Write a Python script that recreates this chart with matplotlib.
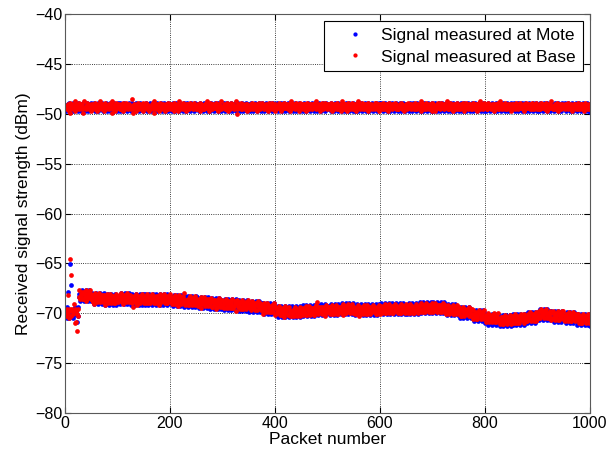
import numpy as np
import matplotlib.pyplot as plt

plt.rcParams['font.family'] = ['Liberation Sans', 'DejaVu Sans']

# RSSI readings, written as digit strings: each digit is one packet,
# offset from the band level in steps (digit - 4.5) * step
mote_high_digits = """
5263748352 6473825364 7352846375 2648357264 8352746385
4736582736 4825374638 5274635827 3645283746 5283746528
6352847362 5384736254 8637254836 4725836472 5384763524
3748526374 8526347852 6347825634 7852634782 5637482563
4625837462 5837462583 7462583746 2583746258 3746258374
5374628537 4628537462 8537462853 7462853746 2853746285
3846275384 6275384627 5384627538 4627538462 7538462753
6253847625 3847625384 7625384762 5384762538 4762538476
4738526473 8526473852 6473852647 3852647385 2647385264
5627384562 7384562738 4562738456 2738456273 8456273845
3465728346 5728346572 8346572834 6572834657 2834657283
7254638725 4638725463 8725463872 5463872546 3872546387
4583726458 3726458372 6458372645 8372645837 2645837264
6347258634 7258634725 8634725863 4725863472 5863472586
2536847253 6847253684 7253684725 3684725368 4725368472
5748362574 8362574836 2574836257 4836257483 6257483625
3625748362 5748362574 8362574836 2574836257 4836257483
6473582647 3582647358 2647358264 7358264735 8264735826
4352867435 2867435286 7435286743 5286743528 6743528674
5864273586 4273586427 3586427358 6427358642 7358642731
"""
base_high_digits = """
4553462371 5446354826 3554473645 5634184453 4765354426
3546457352 6445385463 4655247354 4536654718 3454627365
5463354647 2554376453 4645539451 6354426574 3565443275
4456736452 5344657381 5463455624 7345546352 4564337546
6345542765 3455628443 5647354456 2546653474 5435674453
3564457246 5435366548 4456237565 3645547436 5246558344
4655343672 5464357445 6344580356 4565373446 5354626453
5436475354 4653246657 3545764435 5463352746 4657345532
6344557463 5236447546 4564355728 3456546437 5645234756
4535664352 7454356645 3465547834 5546324657 4356745436
5644357245 4365546373 5455628454 3646435275 6453547346
3456264857 5435473645 6354542736 4565354457 3745463526
5463745354 3654267445 4536456573 6453344657 5364525446
4357546643 5465337455 3645564827 5443657345 4536456372
6435253647 4556374546 5344658453 3657443562 4565347354
5346456472 3564745346 4653357564 5346426758 3455643745
4563374655 5346546234 6455373846 4535645374 5346554632
3654465357 4563547645 5346234756 4655436573 6453457453
5435637446 4653357524 3564648453 5436453762 4556345645
4365546735 5453642456 4635557346 3546465327 5463455364
"""
mote_low_digits = """
3728465273 8465237846 5273846527 3846527384 6527384652
5846273584 6273585462 7358462735 8462735846 2735846273
4637258463 7254863725 8463725846 3725846372 5846372584
6285473628 5473628547 3628547362 8547362854 7362854736
3574628357 4628357462 8357462835 7462835746 2835746283
4863725486 3725486372 5486372548 6372548637 2548637254
5728364572 8364572836 4572836457 2836457283 6457283645
2647583264 7583264758 3264758326 4758326475 8326475832
6354827635 4827635482 7635482763 5482763548 2763548276
3482657348 2657348265 7348265734 8265734826 5734826573
5736248573 6248573624 8573624857 3624857362 4857362485
4625738462 5738462573 8462573846 2573846257 3846257384
6384527638 4527638452 7638452763 8452763845 2763845276
2573846257 3846257384 6257384625 7384625738 4625738462
4857362485 7362485736 2485736248 5736248573 6248573624
5263847526 3847526384 7526384752 6384752638 4752638475
3746582374 6582374658 2374658237 4658237465 8237465823
6528374652 8374652837 4652837465 2837465283 7465283746
4372865437 2865437286 5437286543 7286543728 6543728654
5647283564 7283564728 3564728356 4728356472 8356472831
"""
base_low_digits = """
5364472556 4356548362 5453647345 4653356472 5344567453
4563246755 3465753446 5536442675 4354675364 6453347556
3546657342 5465436574 4356564351 5645372546 4536457463
5453647345 6344576453 4563554627 3654465743 5463346557
4635543675 5346257446 3564658435 4455363746 5346547354
6453346572 4564735456 5436445673 3546654235 4657354463
4356567345 5643456374 3465525746 5634467353 4563546745
5546374456 4365537564 6453442657 4536765344 5346453675
3654467543 5346356247 4563647534 5435463756 6344557364
4536546473 3654753446 5463365748 4356445635 5645327456
5463654374 4536457635 3645546372 5463354657 4536674534
6345453762 5436546347 4563735456 3546457654 5436345763
4653546437 5364657345 4536346756 6453546437 3564653475
5436457364 4653345765 5346564374 4635437556 5463654347
3546745356 5463456437 4653635574 5346456437 6453547346
4563365754 3654546473 5436657345 4563345765 5346546374
5364457365 4536546753 6345754436 5463346574 4356645735
4653557346 5346436574 4563754435 3654567346 5436457354
5463346756 4365657435 5346543674 4653456537 3546645773
4536564357 5463345674 3654657436 5463345756 4536657345
"""

# band levels (dBm)
mote_high_level = -49.35
base_high_level = -49.3
# lower band, one level per 25 packets
base_low_levels = [-69.9, -68.2, -68.5, -68.6, -68.5, -68.6, -68.6, -68.6, -68.7, -68.8,
                   -68.9, -69.0, -69.1, -69.2, -69.3, -69.5, -69.8, -69.9, -69.8, -69.7,
                   -69.7, -69.6, -69.7, -69.7, -69.6, -69.6, -69.6, -69.5, -69.5, -69.7,
                   -69.9, -70.2, -70.5, -70.7, -70.6, -70.4, -70.1, -70.3, -70.4, -70.6]
mote_low_levels = [-70.0, -68.3, -68.6, -68.7, -68.6, -68.7, -68.7, -68.7, -68.8, -68.9,
                   -69.0, -69.1, -69.2, -69.3, -69.4, -69.6, -69.9, -69.9, -69.8, -69.7,
                   -69.7, -69.6, -69.7, -69.7, -69.6, -69.6, -69.6, -69.5, -69.5, -69.7,
                   -70.0, -70.3, -70.7, -70.8, -70.7, -70.5, -70.2, -70.4, -70.5, -70.7]

# start-up transient in the lower band
base_out_packets = [6, 9, 11, 18, 20, 23]
base_out_values = [-68.2, -64.6, -66.2, -71.0, -70.9, -71.8]
mote_out_packets = [6, 9, 11, 22]
mote_out_values = [-67.9, -65.1, -67.2, -70.9]


def decode(digits):
    return np.array([int(c) for c in digits if c.isdigit()])


def band(digits, levels, step, out_packets=(), out_values=()):
    d = decode(digits)
    x = np.arange(1, len(d) + 1)
    lv = np.asarray(levels, dtype=float)
    if lv.ndim == 0:
        base = np.full(len(d), float(lv))
    else:
        base = lv[np.minimum((x - 1) // 25, len(lv) - 1)]
    y = base + (d - 4.5) * step
    for p, v in zip(out_packets, out_values):
        y[p - 1] = v
    return x, y


xm1, ym1 = band(mote_high_digits, mote_high_level, 0.13)
xm2, ym2 = band(mote_low_digits, mote_low_levels, 0.17, mote_out_packets, mote_out_values)
xb1, yb1 = band(base_high_digits, base_high_level, 0.17)
xb2, yb2 = band(base_low_digits, base_low_levels, 0.23, base_out_packets, base_out_values)

fig = plt.figure(figsize=(6.08, 4.53), dpi=100)
ax = fig.add_axes([0.107, 0.088, 0.863, 0.881])

ax.plot(np.concatenate([xm1, xm2]), np.concatenate([ym1, ym2]), 'o', color='#0000ff',
        markersize=3.4, markeredgewidth=0, label='Signal measured at Mote')
ax.plot(np.concatenate([xb1, xb2]), np.concatenate([yb1, yb2]), 'o', color='#ff0000',
        markersize=3.4, markeredgewidth=0, label='Signal measured at Base')

ax.set_xlim(0, 1000)
ax.set_ylim(-80, -40)
ax.set_xticks(np.arange(0, 1001, 200))
ax.set_yticks(np.arange(-80, -39, 5))
ax.grid(True, color='black', linestyle=':', linewidth=0.6)
ax.tick_params(direction='in', top=True, right=True, length=4, labelsize=11.5, pad=2)
for s in ax.spines.values():
    s.set_color('0.35')

ax.set_xlabel('Packet number', fontsize=12.5, labelpad=1)
ax.set_ylabel('Received signal strength (dBm)', fontsize=12.5, labelpad=3)

leg = ax.legend(loc='upper right', bbox_to_anchor=(0.987, 0.982), borderaxespad=0,
                fontsize=12.5, fancybox=False, framealpha=1, edgecolor='black',
                handlelength=2.8, handletextpad=0.1, labelspacing=0.35, borderpad=0.4,
                markerscale=0.9)
leg.get_frame().set_linewidth(0.8)

fig.savefig('out.png', dpi=100)
